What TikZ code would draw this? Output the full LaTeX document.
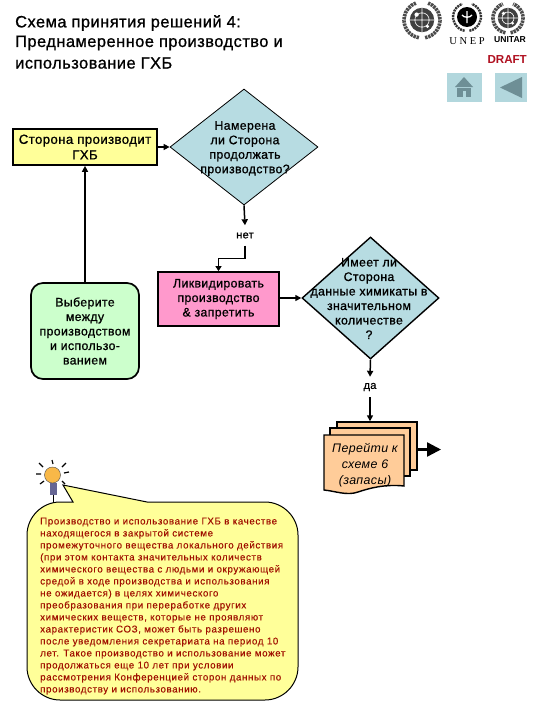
\documentclass[tikz,border=0pt]{standalone}
\usepackage{fontspec}
\setmainfont{Liberation Sans}
\newfontfamily\medfont[FakeBold=0.9,LetterSpace=3]{Liberation Sans}
\newfontfamily\noteFont[FakeBold=0.25,LetterSpace=6]{Liberation Sans}
\newfontfamily\docFont[LetterSpace=3]{Liberation Sans}
\newfontfamily\serifFont{Liberation Serif}
\usetikzlibrary{shapes.geometric,arrows.meta}
\definecolor{boxyellow}{HTML}{FFFF99}
\definecolor{teal1}{HTML}{B7DCE2}
\definecolor{pinkbox}{HTML}{FF99CC}
\definecolor{greenbox}{HTML}{CCFFCC}
\definecolor{peach}{HTML}{FFCC99}
\definecolor{notered}{HTML}{A01000}
\definecolor{draftred}{HTML}{B01020}
\definecolor{btn}{HTML}{B2D7DD}
\definecolor{btnicon}{HTML}{6E8F96}
\definecolor{bulb}{HTML}{F8B848}
\tikzset{
  flowbox/.style={draw=black,line width=1.7pt,rectangle,inner sep=0pt,align=center,font=\fontsize{12.3}{14.5}\selectfont\medfont},
  decision/.style={draw=black,diamond,fill=teal1,inner sep=0pt},
  dectext/.style={align=center,inner sep=0pt,font=\fontsize{12.3}{14.5}\selectfont\medfont},
  flowlabel/.style={inner sep=0pt,minimum height=20pt,font=\fontsize{11}{13}\selectfont\medfont},
  conn/.style={line width=1.5pt},
  connarrow/.style={conn,-{Triangle[length=6pt,width=6pt]}},
  titletext/.style={anchor=west,inner sep=0pt,font=\fontsize{16.4}{18}\selectfont\medfont},
  docsheet/.style={draw=black,line width=1.4pt,fill=peach},
  ray/.style={line width=1.2pt,black},
}
\newcommand{\wreathlogo}[3]{%
  \begin{scope}[shift={(#1,#2)}]
    \draw[line width=3.6pt,black!70,dash pattern=on 2.4pt off .8pt] (100:#3) arc[start angle=100,end angle=250,radius=#3];
    \draw[line width=3.6pt,black!70,dash pattern=on 2.4pt off .8pt] (80:#3) arc[start angle=80,end angle=-70,radius=#3];
    \fill[black!75] (0,0) circle[radius=#3*0.68];
    \draw[white,line width=.6pt] (0,0) circle[radius=#3*0.4] (-#3*0.68,0) -- (#3*0.68,0) (0,-#3*0.68) -- (0,#3*0.68);
    \fill[white] (-#3*0.3,-#3*0.3) circle[radius=#3*0.12] (#3*0.3,#3*0.35) circle[radius=#3*0.1];
  \end{scope}}
\begin{document}
\begin{tikzpicture}[x=1pt,y=-1pt]
\useasboundingbox (0,0) rectangle (540,720);
\fill[white] (0,0) rectangle (540,720);
% title
\node[titletext] (t1) at (15,23) {Схема принятия решений 4:};
\node[titletext] (t2) at (15,43) {Преднамеренное производство и};
\node[titletext] (t3) at (15,63) {использование ГХБ};
% logos
\wreathlogo{422}{20}{18}
\wreathlogo{508}{18}{15}
\begin{scope}[shift={(467,17)}]
  \draw[line width=2.4pt,black!80,dash pattern=on 2pt off .8pt] (100:14) arc[start angle=100,end angle=250,radius=14];
  \draw[line width=2.4pt,black!80,dash pattern=on 2pt off .8pt] (80:14) arc[start angle=80,end angle=-70,radius=14];
  \fill[black] (0,0) circle[radius=10];
  \draw[white,line width=1.3pt] (0,-6) -- (0,6) (-5,-2) .. controls (-3,1) and (3,1) .. (5,-2);
\end{scope}
\node[inner sep=0pt,font=\fontsize{10.5}{13}\selectfont\serifFont] (unep) at (467,41) {U N E P};
\node[inner sep=0pt,font=\fontsize{8.6}{10}\selectfont\bfseries] (unitar) at (510,40) {UNITAR};
\node[anchor=east,inner sep=0pt,text=draftred,font=\fontsize{11.6}{13}\selectfont\bfseries] (draft) at (527,60) {DRAFT};
% buttons
\fill[btn] (447,73) rectangle (482,102);
\fill[btn] (495,73) rectangle (527,102);
\fill[btnicon] (464,77) -- (473,87) -- (455,87) -- cycle;
\fill[btnicon] (457,88) rectangle (471,97);
\fill[btn] (463,91) rectangle (466,97);
\fill[btnicon] (500,87.5) -- (522,77) -- (522,98) -- cycle;
% nodes
\node[flowbox,fill=boxyellow,minimum width=144pt,minimum height=36pt,font=\fontsize{13.2}{15.5}\selectfont\medfont] (produce) at (85,147) {Сторона производит\\ГХБ};
\node[decision,line width=.8pt,minimum width=148pt,minimum height=116pt,aspect=1.276] (q1) at (244,147) {};
\node[dectext] (q1t) at (245,148.5) {Намерена\\ли Сторона\\продолжать\\производство?};
\node[flowlabel] (no) at (245,235.5) {нет};
\node[flowbox,fill=pinkbox,minimum width=121pt,minimum height=54pt] (liq) at (218.5,299) {Ликвидировать\\производство\\\& запретить};
\node[flowbox,fill=greenbox,rounded corners=12pt,minimum width=108pt,minimum height=96pt] (choose) at (85,331) {Выберите\\между\\производством\\и использо-\\ванием};
\node[decision,line width=1.4pt,minimum width=137pt,minimum height=122pt,aspect=1.123] (q2) at (370.5,298) {};
\node[dectext] (q2t) at (369,298.5) {Имеет ли\\Сторона\\данные химикаты в\\значительном\\количестве\\?};
\node[flowlabel] (yes) at (370,387) {да};
% documents
\node[docsheet,minimum width=80pt,minimum height=48pt,inner sep=0pt] (docback) at (377,446) {};
\node[docsheet,minimum width=80pt,minimum height=48pt,inner sep=0pt] (docmid) at (370,452) {};
\draw[docsheet] (324,435) -- (404,435) -- (404,486) .. controls (385,484) and (370,488) .. (358,492) .. controls (347,496) and (335,491) .. (324,490) -- cycle;
\node[inner sep=0pt,align=center,font=\fontsize{12.4}{16}\selectfont\itshape\docFont] (doct) at (365,465) {Перейти к\\схеме 6\\(запасы)};
\coordinate (docout) at (441,449.5);
% connectors
\draw[connarrow] (produce.east) -- (q1.west);
\draw[connarrow] (q1.south) -- (no.north);
\draw[conn,-{Triangle[length=5pt,width=6pt]},line width=1.1pt] (no.south) -- ++(0,13) -| (liq.north);
\draw[connarrow] (liq.east |- q2.west) -- (q2.west);
\draw[connarrow] (choose.north) -- (produce.south);
\draw[connarrow] (q2.south) -- (yes.north);
\draw[connarrow] (yes.south) -- (docback.north -| yes.south);
\draw[line width=2.4pt,-{Triangle[length=14pt,width=14pt]}] (docback.east |- docout) -- (docout);
% callout
\draw[draw=black,line width=1pt,fill=boxyellow] (63,485) -- (147,502) -- (265,502)
  .. controls (283,502) and (298,517) .. (298,535) -- (298,667)
  .. controls (298,685) and (283,700) .. (265,700) -- (60,700)
  .. controls (42,700) and (27,685) .. (27,667) -- (27,535)
  .. controls (27,517) and (42,502) .. (60,502) -- (73,502) -- cycle;
\node[anchor=north west,inner sep=0pt,text=notered,align=left,font=\fontsize{9.8}{12}\selectfont\noteFont] (note) at (40,517.5) {Производство и использование ГХБ  в качестве\\находящегося в закрытой системе\\промежуточного вещества локального действия\\(при этом контакта значительных количеств\\химического вещества с людьми и окружающей\\средой  в ходе производства и использования\\не ожидается) в целях химического\\преобразования при переработке других\\химических веществ, которые не проявляют\\характеристик СОЗ, может быть разрешено\\после уведомления секретариата на период 10\\лет. Такое производство и использование может\\продолжаться еще 10 лет при условии\\рассмотрения Конференцией сторон данных по\\производству и использованию.};
% bulb
\fill[black!70!blue!60] (50,483) rectangle (57,495);
\draw[black,line width=.8pt] (53,495) -- (53,502);
\fill[bulb,draw=black!70,line width=.4pt] (52.5,475) circle[radius=8];
\draw[ray] (52,460) -- (53,464) (39,463) -- (43,467) (66,463) -- (62,467) (36,474) -- (41,474) (64,473) -- (69,472) (40,484) -- (44,481) (65,484) -- (62,481);
\end{tikzpicture}
\end{document}
